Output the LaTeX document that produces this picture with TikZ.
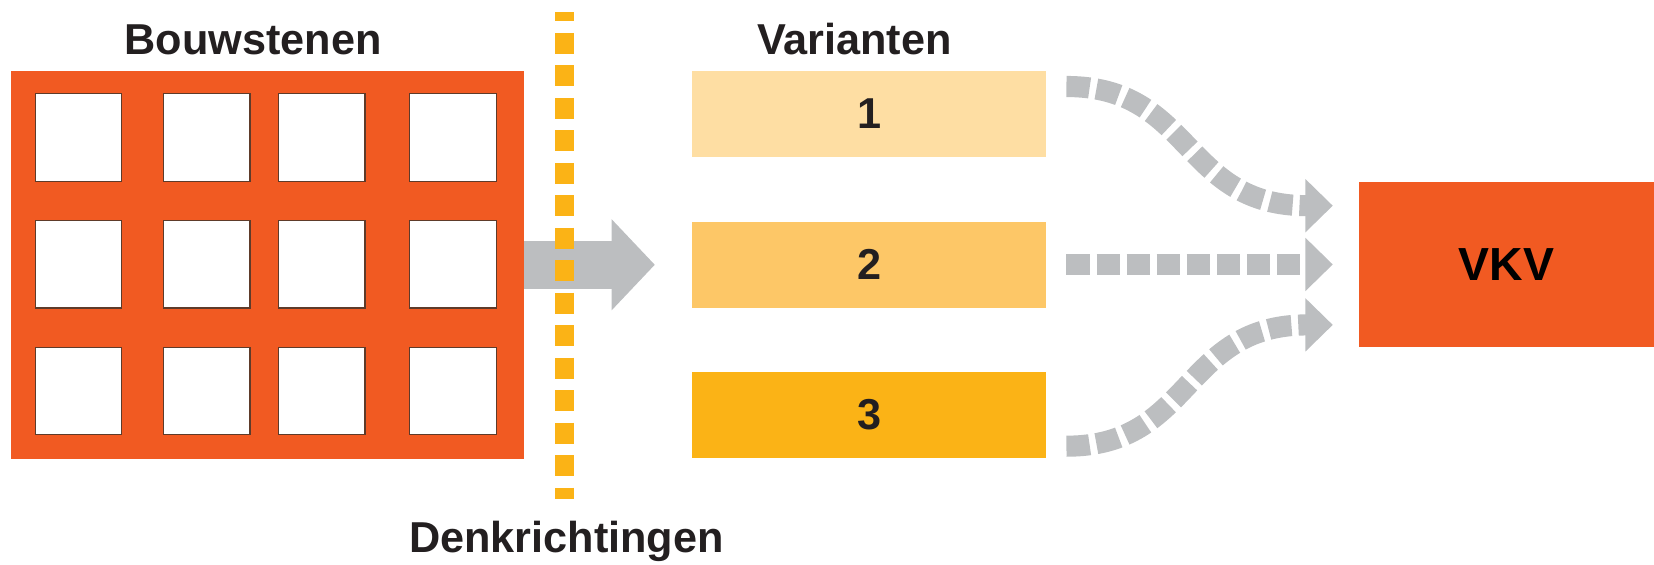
\documentclass[tikz,border=0pt]{standalone}
\usepackage{fontspec}
\setmainfont{Liberation Sans}
\usetikzlibrary{arrows.meta}
\definecolor{vorange}{HTML}{F15A22}
\definecolor{vyellow}{HTML}{FBB316}
\definecolor{vyellowmid}{HTML}{FDC767}
\definecolor{vyellowlight}{HTML}{FEDEA3}
\definecolor{vgrey}{HTML}{BCBEC0}
\definecolor{vborder}{HTML}{5E3B2A}
\definecolor{vtext}{HTML}{231F20}
\tikzset{
  title/.style={font=\fontsize{41}{48}\selectfont\bfseries, text=vtext, inner sep=0pt, anchor=base},
  block/.style={fill=vorange, inner sep=0pt, minimum width=487pt, minimum height=368pt},
  sq/.style={fill=white, draw=vborder, line width=1pt, inner sep=0pt, minimum width=82pt, minimum height=83pt},
  variant/.style={inner sep=0pt, minimum width=336pt, minimum height=82pt, font=\fontsize{41}{48}\selectfont\bfseries, text=vtext},
  vkvbox/.style={fill=vorange, inner sep=0pt, minimum width=280pt, minimum height=156pt, font=\fontsize{44}{52}\selectfont\bfseries, text=black},
  bigarrow/.style={draw=vgrey, line width=46pt, -{Triangle[width=84pt,length=41pt]}},
  dotline/.style={draw=vyellow, line width=18pt, dash pattern=on 20pt off 10.8pt, dash phase=11.1pt},
  flow/.style={draw=vgrey, line width=20pt, dash pattern=on 22pt off 6.5pt, -{Triangle[width=49pt,length=26pt]}}
}
\begin{document}
\begin{tikzpicture}[x=1pt,y=-1pt]
\useasboundingbox (0,0) rectangle (1568,534.7);
% titles
\node[title] (tb) at (240,52) {Bouwstenen};
\node[title] (tv) at (810,52) {Varianten};
\node[title] (td) at (537,524) {Denkrichtingen};
% building blocks
\node[block] (bouw) at (253.5,251) {};
\foreach \cx [count=\i] in {74.5,196,305,429.5}{
  \foreach \cy [count=\j] in {130.5,250.5,370.5}{
    \node[sq] (q\i\j) at (\cx,\cy) {};
  }
}
% variants
\node[variant, fill=vyellowlight] (v1) at (824,108) {1};
\node[variant, fill=vyellowmid] (v2) at (824,251) {2};
\node[variant, fill=vyellow] (v3) at (824,393.5) {3};
% big arrow
\draw[bigarrow] (bouw.east) -- ([xshift=-35pt]v2.west);
% dotted line
\coordinate (dt) at (535,11.4);
\coordinate (db) at (535,473);
\draw[dotline] (dt) -- (db);
% VKV
\node[vkvbox] (vkv) at (1428,251) {VKV};
% flow arrows
\coordinate (s1) at (1011,82);
\coordinate (s2) at (1011,250.7);
\coordinate (s3) at (1011,423);
\coordinate (e1) at (1263.5,195);
\coordinate (e2) at (1263.5,250.7);
\coordinate (e3) at (1263.5,308);
\draw[flow] (s1) .. controls +(120,0) and +(-143,0) .. (e1);
\draw[flow] (s2) -- (e2);
\draw[flow] (s3) .. controls +(120,0) and +(-143,0) .. (e3);
\end{tikzpicture}
\end{document}
